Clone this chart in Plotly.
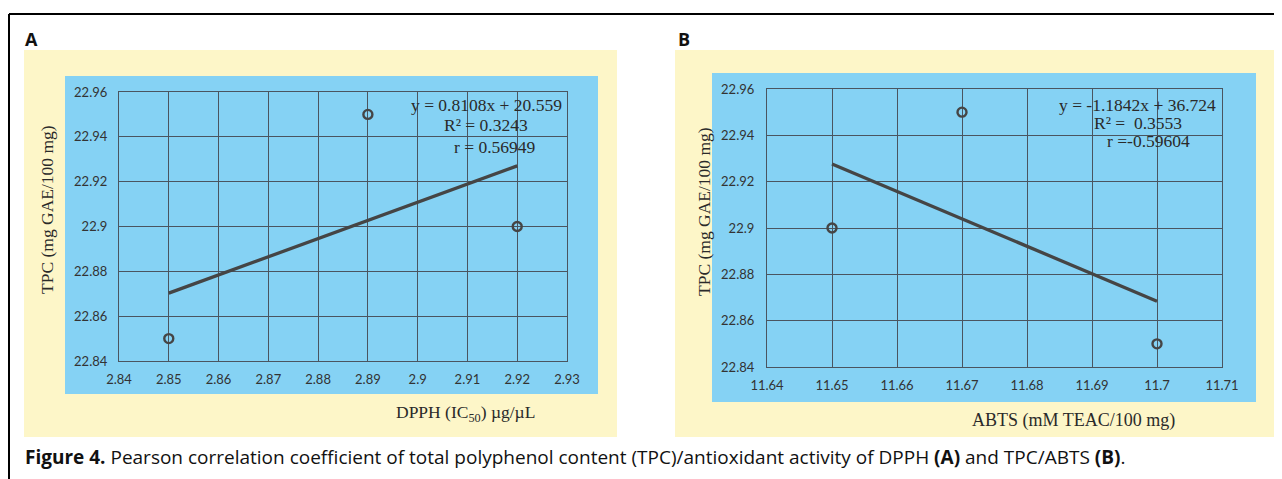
import numpy as np
import plotly.graph_objects as go

W, H = 1282, 479
OFF = 8  # page body margin

# ---- data ----
dpph_x = [2.85, 2.89, 2.92]
dpph_tpc = [22.85, 22.95, 22.90]
abts_x = [11.65, 11.67, 11.70]
abts_tpc = [22.90, 22.95, 22.85]

eq_a = ["y = 0.8108x + 20.559", "R² = 0.3243", "r = 0.56949"]
eq_b = ["y = -1.1842x + 36.724", "R² =  0.3553", "r =-0.59604"]

y_title = "TPC (mg GAE/100 mg)"
x_title_a = "DPPH (IC<sub>50</sub>) µg/µL"
x_title_b = "ABTS (mM TEAC/100 mg)"
caption = ("<b>Figure 4.</b> Pearson correlation coefficient of total polyphenol content (TPC)/antioxidant "
           "activity of DPPH <b>(A)</b> and TPC/ABTS <b>(B)</b>.")

BLUE = "#85D2F4"
YELLOW = "#FDF6C8"
GRID = "#4a5560"
DARK = "#454545"
SERIF = "Liberation Serif, Times New Roman, serif"
TICKF = "Lato, sans-serif"


def px(x):
    return (x - OFF) / W


def py(y):
    return 1 - (y - OFF) / H


fig = go.Figure()


def trend(xs, ys):
    k, b = np.polyfit(xs, ys, 1)
    xe = np.array([min(xs), max(xs)])
    return xe, k * xe + b


for xs, ys, xa, ya in [(dpph_x, dpph_tpc, "x", "y"), (abts_x, abts_tpc, "x2", "y2")]:
    tx, ty = trend(xs, ys)
    fig.add_trace(go.Scatter(x=tx, y=ty, mode="lines", line=dict(color=DARK, width=3.3),
                             xaxis=xa, yaxis=ya, showlegend=False, hoverinfo="skip"))
    fig.add_trace(go.Scatter(x=xs, y=ys, mode="markers",
                             marker=dict(symbol="circle-open", size=9, color=DARK, line=dict(width=2.4, color=DARK)),
                             xaxis=xa, yaxis=ya, showlegend=False))

axis_common = dict(showgrid=True, gridcolor=GRID, gridwidth=1.2, showline=True, mirror=True,
                   linecolor=GRID, linewidth=1.2, zeroline=False, automargin=False,
                   tickfont=dict(family=TICKF, size=13, color="#333"),
                   ticks="outside", tickcolor="rgba(0,0,0,0)")

fig.update_layout(
    width=W, height=H,
    margin=dict(l=0, r=0, t=0, b=0, pad=0, autoexpand=False),
    showlegend=False,
    paper_bgcolor="white",
    plot_bgcolor="rgba(0,0,0,0)",
    xaxis=dict(domain=[px(119), px(567)], range=[2.84, 2.93], dtick=0.01, tick0=2.84, anchor="y",
               ticklen=6, **axis_common),
    yaxis=dict(domain=[py(361), py(92)], range=[22.84, 22.96], dtick=0.02, tick0=22.84, anchor="x",
               ticklen=8, **axis_common),
    xaxis2=dict(domain=[px(767), px(1222)], range=[11.64, 11.71], dtick=0.01, tick0=11.64, anchor="y2",
                ticklen=6, **axis_common),
    yaxis2=dict(domain=[py(367), py(89)], range=[22.84, 22.96], dtick=0.02, tick0=22.84, anchor="x2",
                ticklen=9, **axis_common),
)

shapes = [
    dict(type="rect", x0=px(24), x1=px(617), y0=py(437), y1=py(50), fillcolor=YELLOW, line=dict(width=0)),
    dict(type="rect", x0=px(65), x1=px(598), y0=py(394), y1=py(76), fillcolor=BLUE, line=dict(width=0)),
    dict(type="rect", x0=px(675), x1=1, y0=py(437), y1=py(50), fillcolor=YELLOW, line=dict(width=0)),
    dict(type="rect", x0=px(712), x1=px(1256), y0=py(402), y1=py(73), fillcolor=BLUE, line=dict(width=0)),
    dict(type="line", x0=px(9), x1=1, y0=py(14), y1=py(14), line=dict(color="black", width=2)),
    dict(type="line", x0=px(9), x1=px(9), y0=0, y1=py(14), line=dict(color="black", width=2)),
]
for s in shapes:
    s.update(xref="paper", yref="paper", layer="below")
fig.update_layout(shapes=shapes)

ann = []


def add_text(text, x, y, size, family, color="#222", angle=0, xanchor="center"):
    ann.append(dict(text=text, x=px(x), y=py(y), xref="paper", yref="paper", showarrow=False,
                    font=dict(size=size, family=family, color=color), textangle=angle,
                    xanchor=xanchor, yanchor="middle"))


add_text("<b>A</b>", 23, 39, 18, "Open Sans, sans-serif", "#111", xanchor="left")
add_text("<b>B</b>", 676, 39, 18, "Open Sans, sans-serif", "#111", xanchor="left")

for t, xc, yc in zip(eq_a, [486, 486, 495], [105, 125, 147]):
    add_text(t, xc, yc, 17.5, SERIF, "#2a2a2a")
for t, xc, yc in zip(eq_b, [1137, 1138, 1148], [105, 123, 141]):
    add_text(t, xc, yc, 17.5, SERIF, "#2a2a2a")

add_text(y_title, 47, 210, 17.5, SERIF, "#2a2a2a", angle=-90)
add_text(y_title, 704, 212, 17.5, SERIF, "#2a2a2a", angle=-90)
add_text(x_title_a, 465, 413, 17.5, SERIF, "#2a2a2a")
add_text(x_title_b, 1073, 420, 18, SERIF, "#2a2a2a")

add_text(caption, 23, 457, 19, "Open Sans, sans-serif", "#111", xanchor="left")

fig.update_layout(annotations=ann)

fig.write_html("out.html")
